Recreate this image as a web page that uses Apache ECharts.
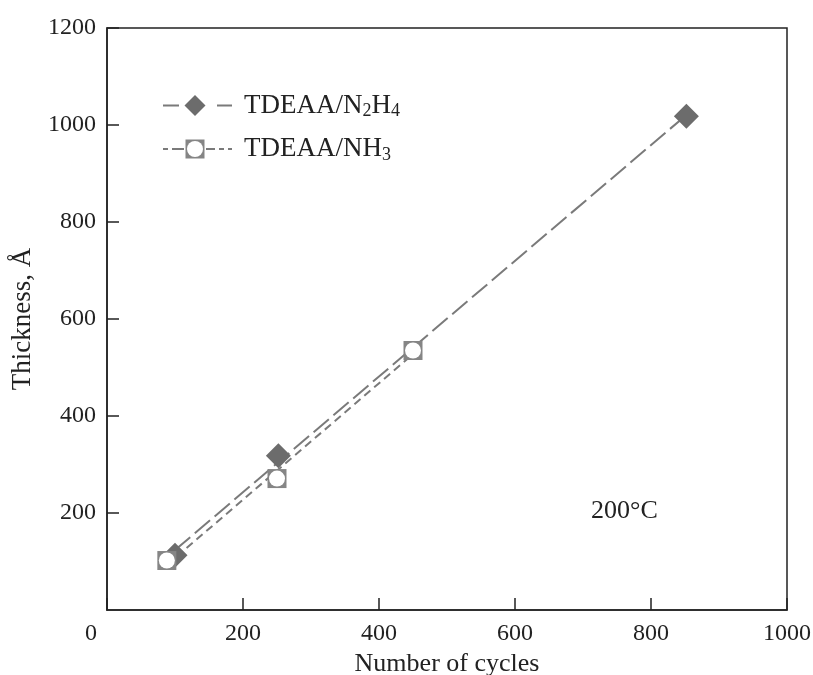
<!DOCTYPE html>
<html>
<head>
<meta charset="utf-8">
<script src="https://cdn.jsdelivr.net/npm/echarts@6/dist/echarts.min.js"></script>
<style>
  html, body { margin: 0; padding: 0; background: #fff; }
  #chart { width: 813px; height: 675px; }
</style>
</head>
<body>
<div id="chart"></div>
<script>
// Film thickness vs. number of ALD cycles at 200 °C
var cyclesN2H4 = [100, 252, 852];
var thickN2H4 = [113, 318, 1018];
var cyclesNH3 = [88, 250, 450];
var thickNH3 = [102, 271, 535];
var xTicks = [0, 200, 400, 600, 800, 1000];
var yTicks = [0, 200, 400, 600, 800, 1000, 1200];

var SERIF = '"Liberation Serif", "DejaVu Serif", serif';
var GREY_LINE = '#7a7a7a';
var GREY_MARK = '#6c6c6c';
var GREY_BOX = '#858585';

function pairs(xs, ys) {
  return xs.map(function (x, i) { return [x, ys[i]]; });
}

// Least-squares straight line through a series, spanning its first to last cycle count
function fitLine(xs, ys) {
  var n = xs.length, mx = 0, my = 0;
  for (var i = 0; i < n; i++) { mx += xs[i]; my += ys[i]; }
  mx /= n; my /= n;
  var sxx = 0, sxy = 0;
  for (var j = 0; j < n; j++) {
    sxx += (xs[j] - mx) * (xs[j] - mx);
    sxy += (xs[j] - mx) * (ys[j] - my);
  }
  var k = sxy / sxx, b = my - k * mx;
  var x0 = Math.min.apply(null, xs), x1 = Math.max.apply(null, xs);
  return [[x0, b + k * x0], [x1, b + k * x1]];
}

// Legend glyphs: dashed stroke with the series marker in the middle
function svgIcon(body) {
  var svg = '<svg xmlns="http://www.w3.org/2000/svg" width="77" height="26" viewBox="0 0 77 26">' + body + '</svg>';
  return 'image://data:image/svg+xml;charset=utf-8,' + encodeURIComponent(svg);
}
var iconN2H4 = svgIcon(
  '<line x1="1" y1="13" x2="17" y2="13" stroke="' + GREY_LINE + '" stroke-width="2"/>' +
  '<line x1="55" y1="13" x2="70" y2="13" stroke="' + GREY_LINE + '" stroke-width="2"/>' +
  '<polygon points="33,2.5 43.5,13 33,23.5 22.5,13" fill="' + GREY_MARK + '"/>'
);
var iconNH3 = svgIcon(
  '<line x1="1" y1="13" x2="6" y2="13" stroke="' + GREY_LINE + '" stroke-width="2"/>' +
  '<line x1="10" y1="13" x2="22" y2="13" stroke="' + GREY_LINE + '" stroke-width="2"/>' +
  '<line x1="44" y1="13" x2="53" y2="13" stroke="' + GREY_LINE + '" stroke-width="2"/>' +
  '<line x1="57" y1="13" x2="62" y2="13" stroke="' + GREY_LINE + '" stroke-width="2"/>' +
  '<line x1="66" y1="13" x2="70" y2="13" stroke="' + GREY_LINE + '" stroke-width="2"/>' +
  '<rect x="23.5" y="3.5" width="19" height="19" fill="' + GREY_BOX + '"/>' +
  '<circle cx="33" cy="13" r="8" fill="#fff"/>'
);

var chart = echarts.init(document.getElementById('chart'), null, { renderer: 'canvas' });

var option = {
  backgroundColor: '#fff',
  animation: false,
  grid: {
    left: 107, top: 28, right: 26, bottom: 65,
    outerBoundsMode: 'none',
    show: true, borderColor: '#222', borderWidth: 1.5, backgroundColor: 'transparent'
  },
  legend: {
    orient: 'vertical',
    left: 157, top: 87,
    itemWidth: 77, itemHeight: 26, itemGap: 15,
    textStyle: {
      fontFamily: SERIF, fontSize: 27, color: '#222',
      rich: { sub: { fontFamily: SERIF, fontSize: 18, color: '#222', padding: [12, 0, 0, 0] } }
    },
    formatter: function (name) {
      return name === 'N2H4' ? 'TDEAA/N{sub|2}H{sub|4}' : 'TDEAA/NH{sub|3}';
    },
    data: [
      { name: 'N2H4', icon: iconN2H4 },
      { name: 'NH3', icon: iconNH3 }
    ]
  },
  xAxis: {
    type: 'value', min: xTicks[0], max: xTicks[xTicks.length - 1], interval: 200,
    name: 'Number of cycles', nameLocation: 'middle', nameGap: 38,
    nameTextStyle: { fontFamily: SERIF, fontSize: 26, color: '#222' },
    axisLine: { show: true, lineStyle: { color: '#222', width: 1.5 } },
    axisTick: { show: true, inside: true, length: 12, lineStyle: { color: '#222', width: 1.5 } },
    axisLabel: {
      fontFamily: SERIF, fontSize: 24, color: '#222', margin: 12,
      formatter: function (v) { return v === 0 ? '{o|0}' : String(v); },
      rich: { o: { fontFamily: SERIF, fontSize: 24, color: '#222', padding: [0, 32, 0, 0] } }
    },
    splitLine: { show: false }
  },
  yAxis: {
    type: 'value', min: yTicks[0], max: yTicks[yTicks.length - 1], interval: 200,
    name: 'Thickness, Å', nameLocation: 'middle', nameGap: 71,
    nameTextStyle: { fontFamily: SERIF, fontSize: 27, color: '#222' },
    axisLine: { show: true, lineStyle: { color: '#222', width: 1.5 } },
    axisTick: { show: true, inside: true, length: 12, lineStyle: { color: '#222', width: 1.5 } },
    axisLabel: {
      fontFamily: SERIF, fontSize: 24, color: '#222', margin: 11,
      showMinLabel: false,
      formatter: function (v) { return v === 0 ? '' : String(v); }
    },
    splitLine: { show: false }
  },
  series: [
    {
      name: 'N2H4 fit', type: 'line',
      data: fitLine(cyclesN2H4, thickN2H4),
      symbol: 'none', silent: true,
      lineStyle: { color: GREY_LINE, width: 2, type: [20, 6] },
      z: 2
    },
    {
      name: 'NH3 fit', type: 'line',
      data: fitLine(cyclesNH3, thickNH3),
      symbol: 'none', silent: true,
      lineStyle: { color: GREY_LINE, width: 2, type: [8, 5] },
      z: 2
    },
    {
      name: 'N2H4', type: 'scatter',
      data: pairs(cyclesN2H4, thickN2H4),
      symbol: 'diamond', symbolSize: 25,
      itemStyle: { color: GREY_MARK, opacity: 1 },
      z: 3
    },
    {
      name: 'NH3', type: 'scatter',
      data: pairs(cyclesNH3, thickNH3),
      symbol: 'rect', symbolSize: 19,
      itemStyle: { color: GREY_BOX, opacity: 1 },
      z: 4
    },
    {
      name: 'NH3 inner', type: 'scatter',
      data: pairs(cyclesNH3, thickNH3),
      symbol: 'circle', symbolSize: 16,
      itemStyle: { color: '#fff', opacity: 1 },
      silent: true,
      z: 5
    }
  ],
  graphic: [
    {
      type: 'text', left: 591, top: 498,
      style: { text: '200°C', font: '26px ' + SERIF, fill: '#222' }
    }
  ]
};

chart.setOption(option);
</script>
</body>
</html>
